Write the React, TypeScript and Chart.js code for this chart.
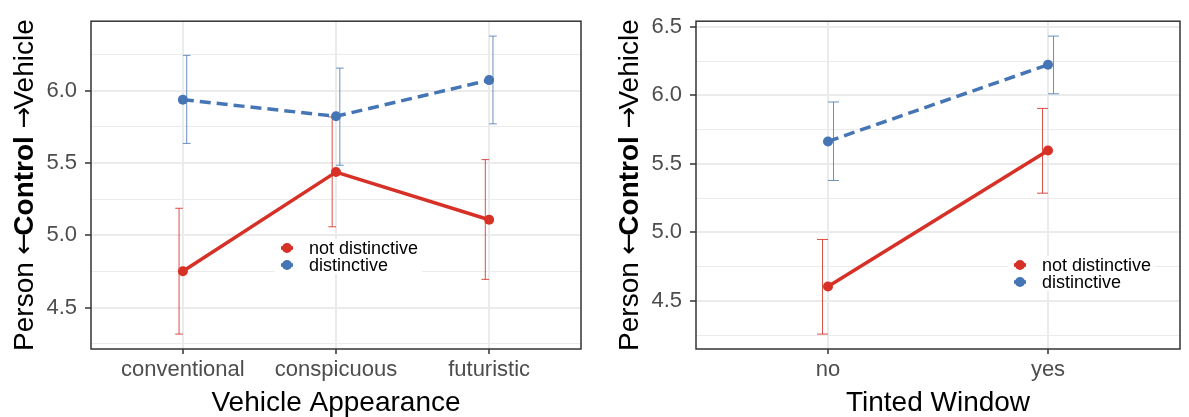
import { useEffect, useRef } from 'react';
import { Chart, registerables } from 'chart.js';

Chart.register(...registerables);

// ---------- Data: left panel (Vehicle Appearance) ----------
const appearanceCategories = ['conventional', 'conspicuous', 'futuristic'];
const appearanceNotDistinctive = [4.752, 5.437, 5.108];
const appearanceNotDistinctiveLow = [4.318, 5.059, 4.696];
const appearanceNotDistinctiveHigh = [5.187, 5.818, 5.523];
const appearanceDistinctive = [5.937, 5.822, 6.072];
const appearanceDistinctiveLow = [5.635, 5.484, 5.770];
const appearanceDistinctiveHigh = [6.243, 6.155, 6.376];
const appearanceYMajor = [4.5, 5.0, 5.5, 6.0];
const appearanceYMinor = [4.25, 4.75, 5.25, 5.75, 6.25];

// ---------- Data: right panel (Tinted Window) ----------
const tintedCategories = ['no', 'yes'];
const tintedNotDistinctive = [4.605, 5.598];
const tintedNotDistinctiveLow = [4.257, 5.286];
const tintedNotDistinctiveHigh = [4.948, 5.905];
const tintedDistinctive = [5.664, 6.224];
const tintedDistinctiveLow = [5.379, 6.012];
const tintedDistinctiveHigh = [5.952, 6.433];
const tintedYMajor = [4.5, 5.0, 5.5, 6.0, 6.5];
const tintedYMinor = [4.25, 4.75, 5.25, 5.75, 6.25];

const seriesNames = ['not distinctive', 'distinctive'];

// ---------- Styles ----------
const RED = '#D73027';
const BLUE = '#4575B4';
const RED_BAR = 'rgba(215,48,39,0.85)';
const BLUE_BAR = 'rgba(69,117,180,0.8)';
const FONT = '"Liberation Sans", Arial, Helvetica, sans-serif';
const ARROW_FONT = '"DejaVu Sans", sans-serif';
const GRID = '#EBEBEB';
const DODGE = 0.025;
const CAP = 0.05;

const panelDecor = {
  id: 'panelDecor',
  beforeDatasetsDraw(chart: any, _args: any, opts: any) {
    const { ctx } = chart;
    const x = chart.scales.x;
    const y = chart.scales.y;
    ctx.save();
    ctx.lineWidth = 1;
    opts.bars.forEach((b: any) => {
      ctx.strokeStyle = b.color;
      b.low.forEach((lo: number, i: number) => {
        const hi = b.high[i];
        const c = i + 1 + b.dodge;
        const px = x.getPixelForValue(c);
        const pl = x.getPixelForValue(c - CAP / 2);
        const pr = x.getPixelForValue(c + CAP / 2);
        const pt = y.getPixelForValue(hi);
        const pb = y.getPixelForValue(lo);
        ctx.beginPath();
        ctx.moveTo(px, pt);
        ctx.lineTo(px, pb);
        ctx.moveTo(pl, pt);
        ctx.lineTo(pr, pt);
        ctx.moveTo(pl, pb);
        ctx.lineTo(pr, pb);
        ctx.stroke();
      });
    });
    ctx.restore();
  },
  afterDraw(chart: any, _args: any, opts: any) {
    const { ctx, chartArea } = chart;
    const { left, right, top, bottom } = chartArea;
    ctx.save();
    // legend
    const lg = opts.legend;
    ctx.font = `18px ${FONT}`;
    const tw = Math.max(...lg.items.map((it: any) => ctx.measureText(it.label).width));
    ctx.fillStyle = '#FFFFFF';
    ctx.fillRect(lg.x - 12, lg.y - 9, lg.textX - lg.x + tw + 16, lg.gap + 18);
    lg.items.forEach((it: any, k: number) => {
      const yy = lg.y + k * lg.gap;
      ctx.strokeStyle = it.color;
      ctx.lineWidth = 3.5;
      ctx.beginPath();
      ctx.moveTo(lg.x - 6, yy);
      ctx.lineTo(lg.x + 6, yy);
      ctx.stroke();
      ctx.fillStyle = it.color;
      ctx.beginPath();
      ctx.arc(lg.x, yy, 5, 0, Math.PI * 2);
      ctx.fill();
      ctx.fillStyle = '#000000';
      ctx.textAlign = 'left';
      ctx.textBaseline = 'middle';
      ctx.fillText(it.label, lg.textX, yy + 1);
    });
    // panel border
    ctx.strokeStyle = '#333333';
    ctx.lineWidth = 1.5;
    ctx.strokeRect(left, top, right - left, bottom - top);
    // x title
    ctx.fillStyle = '#000000';
    ctx.font = `28px ${FONT}`;
    ctx.textAlign = 'center';
    ctx.textBaseline = 'alphabetic';
    ctx.fillText(opts.xTitle, (left + right) / 2, bottom + 62);
    // y title (rotated, mixed weight)
    const segs = [
      { t: 'Person ', f: `28px ${FONT}`, k: 0 },
      { t: '\u2190', f: `26px ${ARROW_FONT}`, k: -3 },
      { t: 'Control', f: `bold 28px ${FONT}`, k: 0 },
      { t: ' ', f: `28px ${FONT}`, k: 0 },
      { t: '\u2192', f: `26px ${ARROW_FONT}`, k: -3 },
      { t: 'Vehicle', f: `28px ${FONT}`, k: 0 },
    ];
    const widths = segs.map((s) => {
      ctx.font = s.f;
      return ctx.measureText(s.t).width + s.k;
    });
    const total = widths.reduce((a, b) => a + b, 0);
    ctx.translate(left - 58, (top + bottom) / 2);
    ctx.rotate(-Math.PI / 2);
    ctx.textAlign = 'left';
    let cx = -total / 2;
    segs.forEach((s, i) => {
      ctx.font = s.f;
      ctx.fillText(s.t, cx, s.t === '\u2190' || s.t === '\u2192' ? -1 : 0);
      cx += widths[i];
    });
    ctx.restore();
  },
};

function expandRange(lows: number[][], highs: number[][]) {
  const lo = Math.min(...lows.flat());
  const hi = Math.max(...highs.flat());
  const pad = (hi - lo) * 0.05;
  return [lo - pad, hi + pad];
}

function makeConfig(p: any) {
  const [yMin, yMax] = expandRange(
    [p.redLow, p.blueLow],
    [p.redHigh, p.blueHigh]
  );
  const n = p.categories.length;
  const yTicks = [...p.yMajor, ...p.yMinor].sort((a, b) => a - b);
  const isMajor = (v: number) => p.yMajor.some((m: number) => Math.abs(m - v) < 1e-6);
  return {
    type: 'line',
    data: {
      datasets: [
        {
          label: seriesNames[1],
          data: p.blue.map((v: number, i: number) => ({ x: i + 1, y: v })),
          borderColor: BLUE,
          backgroundColor: BLUE,
          borderWidth: 3.5,
          borderDash: [11, 6],
          pointRadius: 5,
          pointBorderWidth: 0,
          pointBackgroundColor: BLUE,
          tension: 0,
        },
        {
          label: seriesNames[0],
          data: p.red.map((v: number, i: number) => ({ x: i + 1, y: v })),
          borderColor: RED,
          backgroundColor: RED,
          borderWidth: 3.5,
          pointRadius: 5,
          pointBorderWidth: 0,
          pointBackgroundColor: RED,
          tension: 0,
        },
      ],
    },
    options: {
      animation: false,
      responsive: false,
      devicePixelRatio: 1,
      layout: { padding: { top: 15, right: p.padRight, left: 0, bottom: 0 } },
      events: [],
      scales: {
        x: {
          type: 'linear',
          min: 0.4,
          max: n + 0.6,
          afterBuildTicks: (s: any) => {
            s.ticks = p.categories.map((_: string, i: number) => ({ value: i + 1 }));
          },
          afterFit: (s: any) => {
            s.height = 68;
          },
          border: { display: false },
          grid: {
            color: GRID,
            lineWidth: 2,
            tickColor: '#333333',
            tickLength: 5,
            tickWidth: 1.5,
          },
          ticks: {
            autoSkip: false,
            maxRotation: 0,
            padding: 3,
            color: '#4D4D4D',
            font: { family: FONT, size: 22 },
            callback: (v: number) => p.categories[Math.round(v) - 1] ?? '',
          },
        },
        y: {
          type: 'linear',
          min: yMin,
          max: yMax,
          afterBuildTicks: (s: any) => {
            s.ticks = yTicks.map((v) => ({ value: v }));
          },
          afterFit: (s: any) => {
            s.width = p.yWidth;
          },
          border: { display: false },
          grid: {
            color: GRID,
            lineWidth: (c: any) => (isMajor(c.tick?.value) ? 2 : 1),
            tickColor: (c: any) => (isMajor(c.tick?.value) ? '#333333' : 'rgba(0,0,0,0)'),
            tickLength: 6,
            tickWidth: 1.5,
          },
          ticks: {
            autoSkip: false,
            padding: 8,
            color: '#4D4D4D',
            font: { family: FONT, size: 22 },
            callback: (v: number) => (isMajor(v) ? v.toFixed(1) : ''),
          },
        },
      },
      plugins: {
        legend: { display: false },
        tooltip: { enabled: false },
        panelDecor: {
          xTitle: p.xTitle,
          bars: [
            { low: p.redLow, high: p.redHigh, dodge: -DODGE, color: RED_BAR },
            { low: p.blueLow, high: p.blueHigh, dodge: DODGE, color: BLUE_BAR },
          ],
          legend: {
            x: p.legendX,
            y: p.legendY,
            gap: 17,
            textX: p.legendX + 22,
            items: [
              { label: seriesNames[0], color: RED },
              { label: seriesNames[1], color: BLUE },
            ],
          },
        },
      },
    },
    plugins: [panelDecor],
  };
}

function Panel(props: { config: any; left: number; width: number }) {
  const ref = useRef<HTMLCanvasElement | null>(null);
  useEffect(() => {
    if (!ref.current) return;
    const chart = new Chart(ref.current, props.config);
    return () => chart.destroy();
  }, []);
  return (
    <canvas
      ref={ref}
      width={props.width}
      height={417}
      style={{ position: 'absolute', left: props.left, top: 0, width: props.width, height: 417 }}
    />
  );
}

export default function App() {
  const leftConfig = makeConfig({
    categories: appearanceCategories,
    red: appearanceNotDistinctive,
    redLow: appearanceNotDistinctiveLow,
    redHigh: appearanceNotDistinctiveHigh,
    blue: appearanceDistinctive,
    blueLow: appearanceDistinctiveLow,
    blueHigh: appearanceDistinctiveHigh,
    yMajor: appearanceYMajor,
    yMinor: appearanceYMinor,
    xTitle: 'Vehicle Appearance',
    yWidth: 91,
    padRight: 14,
    legendX: 287,
    legendY: 248,
  });
  const rightConfig = makeConfig({
    categories: tintedCategories,
    red: tintedNotDistinctive,
    redLow: tintedNotDistinctiveLow,
    redHigh: tintedNotDistinctiveHigh,
    blue: tintedDistinctive,
    blueLow: tintedDistinctiveLow,
    blueHigh: tintedDistinctiveHigh,
    yMajor: tintedYMajor,
    yMinor: tintedYMinor,
    xTitle: 'Tinted Window',
    yWidth: 101,
    padRight: 9,
    legendX: 425,
    legendY: 265,
  });
  return (
    <div style={{ position: 'absolute', left: 0, top: 0, width: 1189, height: 417, background: '#FFFFFF' }}>
      <Panel config={leftConfig} left={0} width={595} />
      <Panel config={rightConfig} left={595} width={594} />
    </div>
  );
}
